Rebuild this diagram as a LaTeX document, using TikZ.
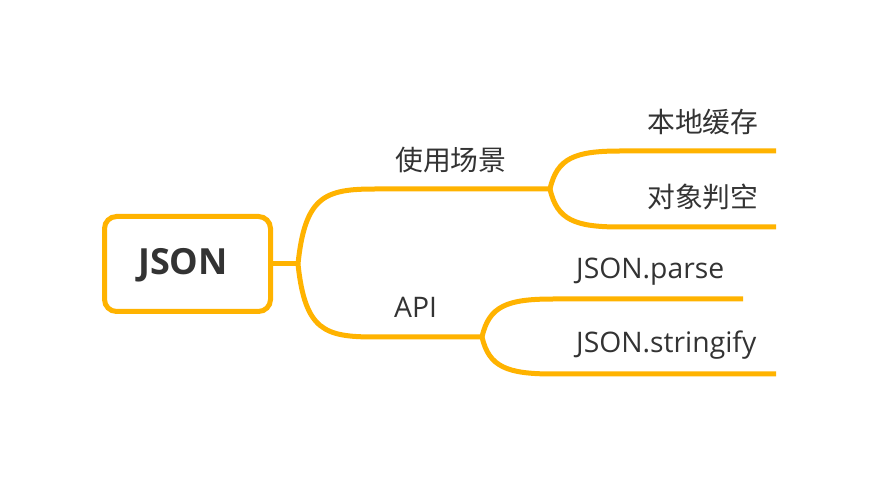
\documentclass[tikz,border=0pt]{standalone}
\usepackage{fontspec}
\setmainfont{Open Sans}
\newfontfamily\cjk{Noto Sans CJK SC}
\definecolor{branch}{HTML}{FFB300}
\definecolor{txt}{HTML}{333333}
\tikzset{
  conn/.style={draw=branch, line width=5pt, line cap=butt},
  rootbox/.style={draw=branch, line width=5pt, rounded corners=12pt, minimum width=166pt, minimum height=95pt, inner sep=0pt},
  lbl/.style={text=txt, inner sep=0pt, anchor=base west, font=\fontsize{28.3}{32}\selectfont},
  clbl/.style={text=txt, inner sep=0pt, anchor=base west, font=\cjk\fontsize{27.8}{32}\selectfont},
}
\begin{document}
\begin{tikzpicture}[x=1pt, y=-1pt]
\useasboundingbox (0,0) rectangle (876,478);
\fill[white] (0,0) rectangle (876,478);
% root
\node[rootbox] (root) at (187.5,264) {};
\node[text=txt, inner sep=0pt, anchor=base, font=\fontsize{36}{40}\selectfont\bfseries] (roottxt) at (183,275) {JSON};
% junctions
\coordinate (j0) at (298,264);
\coordinate (j1) at (550,189);
\coordinate (j2) at (482,337);
\coordinate (e11) at (776,151);
\coordinate (e12) at (776,227);
\coordinate (e21) at (743,299);
\coordinate (e22) at (776,374);
% connectors
\draw[conn] (root.east) -- (j0);
\draw[conn] (j0) .. controls (305,196) and (325,189) .. (375,189) -- (j1);
\draw[conn] (j0) .. controls (305,331) and (325,337) .. (375,337) -- (j2);
\draw[conn] (j1) .. controls (557,158) and (575,151) .. (620,151) -- (e11);
\draw[conn] (j1) .. controls (557,220) and (575,227) .. (620,227) -- (e12);
\draw[conn] (j2) .. controls (489,306) and (507,299) .. (553,299) -- (e21);
\draw[conn] (j2) .. controls (489,367) and (507,374) .. (553,374) -- (e22);
% labels
\node[clbl] (l1) at (395,171) {使用场景};
\node[lbl] (l2) at (394,318) {API};
\node[clbl] (l11) at (647,133) {本地缓存};
\node[clbl] (l12) at (647,208) {对象判空};
\node[lbl] (l21) at (576,279) {JSON.parse};
\node[lbl] (l22) at (576,353) {JSON.stringify};
\end{tikzpicture}
\end{document}
